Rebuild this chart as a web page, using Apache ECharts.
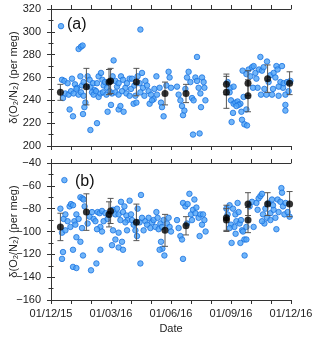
<!DOCTYPE html>
<html>
<head>
<meta charset="utf-8">
<script src="https://cdn.jsdelivr.net/npm/echarts@6/dist/echarts.min.js"></script>
<style>
  html, body { margin: 0; padding: 0; background: #fff; }
  #chart { width: 320px; height: 338px; }
</style>
</head>
<body>
<div id="chart"></div>
<script>
// x values are months since 01/12/15
var xTickLabels = ['01/12/15', '', '', '01/03/16', '', '', '01/06/16', '', '', '01/09/16', '', '', '01/12/16'];

// panel (a) individual samples [month, value]
var aPoints = [
    [0.5,305],[1.38,285],[1.5,287],[1.58,288],[3.13,275],
    [0.55,258],[0.67,257],[0.83,255],[1.05,259],[1.2,254],[1.3,251],[1.47,261],[1.55,253],[1.63,256],[1.83,261],
    [1.93,258],[1.97,252],[2.1,255],[2.18,249],[2.3,255],[2.38,261],[2.5,264],[2.57,258],[2.63,253],[2.7,256],
    [2.8,251],[3.08,261],[3.22,257],[3.3,252],[3.38,255],[3.5,261],[3.6,258],[3.72,251],[3.8,255],[3.93,259],[4.0,250],
    [0.6,242],[0.72,246],[0.88,245],[1.0,248],[1.13,246],[1.27,250],[1.38,245],[1.5,247],[1.63,244],[1.72,238],
    [2.05,247],[2.13,245],[2.25,248],[2.38,243],[2.47,246],[2.6,247],[2.77,245],[2.93,248],[3.05,246],[3.22,247],
    [3.38,245],[3.55,248],[3.77,246],[3.93,244],
    [0.93,232],[1.1,226],[1.6,228],[1.67,234],[1.97,214],[2.3,220],[2.83,230],[3.0,236],[3.38,232],[3.47,235],[3.63,230],
    [4.47,302],[7.3,278],
    [4.05,259],[4.17,253],[4.33,261],[4.43,255],[4.55,264],[4.6,251],[4.72,257],[4.8,253],[4.88,248],[5.0,245],
    [5.13,241],[5.17,250],[5.27,261],[5.3,245],[5.43,251],[5.5,238],[5.55,234],[5.63,226],[5.77,253],[5.88,265],
    [5.93,260],[6.0,251],[4.13,237],[4.27,238],[4.22,244],[4.47,247],[4.67,244],[4.93,237],[5.05,240],
    [6.3,252],[6.38,245],[6.47,240],[6.55,235],[6.6,227],[6.67,231],[6.8,260],[6.88,265],[6.97,256],[7.05,242],
    [7.13,240],[7.22,260],[7.3,257],[7.38,251],[7.47,246],[7.5,234],[7.55,260],[7.63,256],[7.67,251],[7.72,240],
    [6.72,250],[7.1,210],[7.43,211],
    [8.83,256],[8.97,251],[9.13,252],[8.93,247],[9.0,240],[9.13,237],[9.22,238],[9.33,239],[9.47,237],[9.38,236],
    [9.1,229],[9.27,235],[9.52,230],[9.55,223],[9.67,219],[9.8,218],[9.03,221],[9.77,232],[9.63,243],[9.58,266],[9.77,263],
    [9.88,267],[9.97,261],[10.05,269],[10.13,270],[10.22,264],[10.27,259],[10.33,251],[10.4,267],[10.47,278],[10.55,266],
    [10.63,269],[10.67,250],[10.8,274],[10.88,256],[10.97,262],[11.05,245],[11.13,264],[11.22,260],[11.27,270],[11.33,267],
    [11.38,244],[11.47,256],[11.55,270],[11.6,251],[11.63,255],[11.72,236],[11.72,245],[11.8,256],[11.88,248],[11.72,231],
    [10.5,245],[10.77,245],[10.1,251],[11.1,250],[11.38,252],[11.97,257]
];

// panel (b) individual samples [month, value]
var bPoints = [
    [0.67,-55],[0.47,-80],
    [0.63,-89],[0.72,-85],[0.83,-91],[0.93,-78],[1.0,-76],[1.1,-77],[1.17,-91],[1.27,-85],[1.38,-89],[1.47,-70],
    [1.57,-71],[1.63,-72],[1.68,-78],[1.83,-93],[1.93,-87],[2.05,-83],[2.13,-89],[2.22,-91],[2.33,-83],[2.43,-84],
    [2.55,-82],[2.63,-91],[2.72,-84],[2.83,-89],[3.1,-81],[3.22,-85],[3.3,-80],[3.38,-85],[3.5,-74],[3.6,-83],
    [3.67,-78],[3.77,-86],[3.83,-90],[3.93,-73],[4.0,-85],[3.47,-90],[3.72,-92],
    [0.55,-101],[0.72,-99],[0.97,-96],[1.22,-94],[1.55,-97],[2.47,-96],[2.3,-98],[2.55,-100],[3.1,-99],[3.38,-101],[3.8,-99],
    [1.27,-105],[1.47,-109],[0.6,-118],[0.55,-124],[1.1,-116],[1.6,-121],[1.1,-131],[1.27,-132],[2.0,-134],[2.27,-128],
    [2.47,-116],[3.05,-112],[3.22,-107],[3.38,-114],[3.55,-109],[3.6,-116],
    [4.5,-68],[4.33,-80],[5.27,-83],[4.05,-90],[4.13,-94],[4.22,-99],[4.3,-104],[4.43,-92],[4.55,-88],[4.63,-99],
    [4.72,-91],[4.8,-94],[4.88,-88],[4.97,-97],[5.05,-92],[5.13,-90],[5.22,-96],[5.33,-88],[5.38,-98],[5.47,-93],
    [5.55,-96],[5.63,-90],[5.8,-93],[5.88,-88],[5.93,-96],[6.0,-100],[5.5,-109],[5.57,-115],[5.67,-121],[5.43,-116],[4.47,-128],
    [6.3,-90],[6.38,-97],[6.47,-104],[6.55,-107],[6.6,-124],[6.6,-75],[6.72,-78],[6.83,-76],[6.92,-67],[7.0,-85],
    [7.1,-81],[7.17,-72],[7.22,-84],[7.27,-79],[7.38,-88],[7.47,-85],[7.55,-94],[7.6,-85],[7.67,-90],[7.73,-100],
    [7.43,-104],[7.05,-90],[6.8,-93],
    [8.77,-80],[8.83,-85],[8.93,-77],[9.0,-94],[9.1,-80],[9.17,-96],[9.22,-85],[9.27,-91],[9.33,-75],[9.38,-83],
    [9.43,-93],[9.5,-90],[9.55,-99],[9.6,-100],[9.67,-107],[9.77,-107],[9.47,-110],[9.03,-110],[9.23,-102],[9.68,-121],
    [8.93,-97],[9.77,-96],
    [9.93,-78],[10.05,-74],[10.13,-96],[10.27,-75],[10.38,-71],[10.47,-69],[10.55,-67],[10.6,-85],[10.67,-93],[10.72,-80],
    [10.8,-88],[10.88,-75],[10.97,-84],[11.05,-72],[11.13,-81],[11.22,-88],[11.27,-98],[11.33,-72],[11.38,-83],[11.47,-74],
    [11.52,-62],[11.55,-66],[11.6,-78],[11.67,-85],[11.73,-75],[11.83,-83],[11.93,-87],[10.55,-91],[10.97,-90],[10.33,-81],[11.1,-77]
];

// monthly means with error bars
var meanMonths = [0.47, 1.77, 2.9, 2.98, 4.27, 5.7, 6.75, 8.77, 8.77, 9.85, 9.85, 10.83, 11.93];
var aMeans = [247, 252, 256, 257, 256, 246, 246, 254, 247, 255, 244, 259, 255];
var aErrors = [7, 16, 11, 11, 12, 10, 8, 9, 14, 11, 14, 12, 10];
var bMeans = [-96, -83, -85, -82, -92, -99, -95, -88, -90, -76, -90, -76, -76];
var bErrors = [12, 16, 11, 11, 16, 14, 8, 11, 10, 10, 11, 10, 11];

var yNameText = 'δ(O₂/N₂) (per meg)';
var font = 'Liberation Sans, Arial, sans-serif';
var axisColor = '#333';

function meanData(means) {
    var out = [];
    for (var i = 0; i < meanMonths.length; i++) out.push([meanMonths[i], means[i]]);
    return out;
}
function errData(means, errs) {
    var out = [];
    for (var i = 0; i < meanMonths.length; i++) out.push([meanMonths[i], means[i], errs[i]]);
    return out;
}

function errorBarItem(params, api) {
    var x = api.value(0), y = api.value(1), e = api.value(2);
    var hi = api.coord([x, y + e]);
    var lo = api.coord([x, y - e]);
    var w = 3;
    var style = { stroke: '#555', lineWidth: 1, fill: null };
    return {
        type: 'group',
        children: [
            { type: 'line', shape: { x1: hi[0], y1: hi[1], x2: lo[0], y2: lo[1] }, style: style },
            { type: 'line', shape: { x1: hi[0] - w, y1: hi[1], x2: hi[0] + w, y2: hi[1] }, style: style },
            { type: 'line', shape: { x1: lo[0] - w, y1: lo[1], x2: lo[0] + w, y2: lo[1] }, style: style }
        ]
    };
}

function xAxisDef(gridIndex, position, showLabels) {
    var ax = {
        type: 'value', gridIndex: gridIndex, position: position,
        min: 0, max: 12, interval: 1,
        axisLine: { show: true, lineStyle: { color: axisColor, width: 1 } },
        axisTick: { show: true, length: 4, lineStyle: { color: axisColor } },
        splitLine: { show: false },
        axisLabel: {
            show: showLabels, margin: 8, fontSize: 11, color: '#222', fontFamily: font,
            showMinLabel: true, showMaxLabel: true, hideOverlap: false,
            formatter: function (v) { return xTickLabels[Math.round(v)] || ''; }
        }
    };
    if (showLabels) {
        ax.name = 'Date';
        ax.nameLocation = 'middle';
        ax.nameGap = 23;
        ax.nameMoveOverlap = false;
        ax.nameTextStyle = { fontSize: 11, color: '#222', fontFamily: font };
    }
    return ax;
}

function yAxisDef(gridIndex, position, min, max, showLabels) {
    var ax = {
        type: 'value', gridIndex: gridIndex, position: position,
        min: min, max: max, interval: 20,
        axisLine: { show: true, lineStyle: { color: axisColor, width: 1 } },
        axisTick: { show: true, length: 4, lineStyle: { color: axisColor } },
        minorTick: { show: true, splitNumber: 2, length: 2.5, lineStyle: { color: axisColor } },
        splitLine: { show: false },
        axisLabel: {
            show: showLabels, margin: 10, fontSize: 11, color: '#222', fontFamily: font,
            formatter: function (v) { return String(v).replace('-', '\u2212'); }
        }
    };
    if (showLabels) {
        ax.name = yNameText;
        ax.nameLocation = 'middle';
        ax.nameGap = 32;
        ax.nameMoveOverlap = false;
        ax.nameTextStyle = { fontSize: 11, color: '#222', fontFamily: font };
    }
    return ax;
}

var pointStyle = { color: '#4da3f7', borderColor: '#1a73e0', borderWidth: 1 };

var chart = echarts.init(document.getElementById('chart'));
var option = {
    animation: false,
    backgroundColor: '#fff',
    title: [
        { text: '(a)', left: 62, top: 12, textStyle: { fontSize: 16, fontWeight: 'normal', color: '#111', fontFamily: font } },
        { text: '(b)', left: 70, top: 169, textStyle: { fontSize: 16, fontWeight: 'normal', color: '#111', fontFamily: font } }
    ],
    grid: [
        { left: 51, top: 9, width: 240, height: 137, outerBoundsMode: 'none' },
        { left: 51, top: 163, width: 240, height: 137, outerBoundsMode: 'none' }
    ],
    xAxis: [
        xAxisDef(0, 'bottom', false),
        xAxisDef(0, 'top', false),
        xAxisDef(1, 'bottom', true),
        xAxisDef(1, 'top', false)
    ],
    yAxis: [
        yAxisDef(0, 'left', 200, 320, true),
        yAxisDef(0, 'right', 200, 320, false),
        yAxisDef(1, 'left', -160, -40, true),
        yAxisDef(1, 'right', -160, -40, false)
    ],
    series: [
        {
            type: 'scatter', xAxisIndex: 0, yAxisIndex: 0, data: aPoints,
            symbolSize: 5.5, itemStyle: pointStyle, z: 2
        },
        {
            type: 'custom', xAxisIndex: 0, yAxisIndex: 0, renderItem: errorBarItem,
            data: errData(aMeans, aErrors), encode: { x: 0, y: 1 }, z: 3, clip: false
        },
        {
            type: 'scatter', xAxisIndex: 0, yAxisIndex: 0, data: meanData(aMeans),
            symbolSize: 7, itemStyle: { color: '#000' }, z: 4, clip: false
        },
        {
            type: 'scatter', xAxisIndex: 2, yAxisIndex: 2, data: bPoints,
            symbolSize: 5.5, itemStyle: pointStyle, z: 2
        },
        {
            type: 'custom', xAxisIndex: 2, yAxisIndex: 2, renderItem: errorBarItem,
            data: errData(bMeans, bErrors), encode: { x: 0, y: 1 }, z: 3, clip: false
        },
        {
            type: 'scatter', xAxisIndex: 2, yAxisIndex: 2, data: meanData(bMeans),
            symbolSize: 7, itemStyle: { color: '#000' }, z: 4, clip: false
        }
    ]
};
chart.setOption(option);
</script>
</body>
</html>
